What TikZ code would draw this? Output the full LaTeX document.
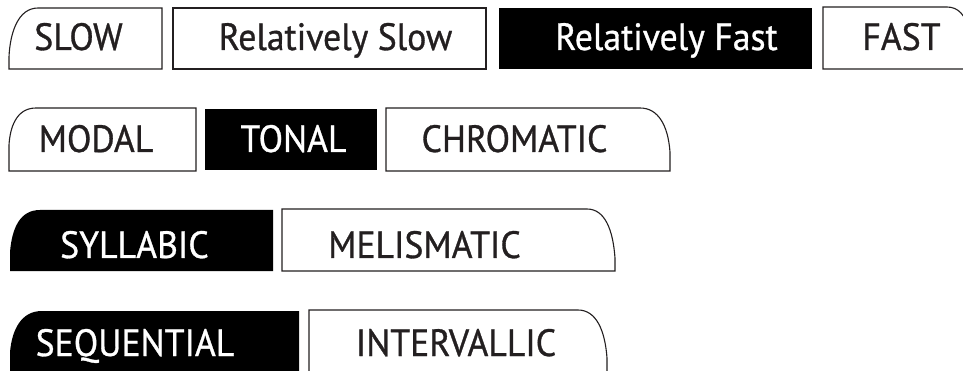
\documentclass[tikz,border=0pt]{standalone}
\usepackage{fontspec}
\setmainfont{PT Sans}[FakeStretch=0.94,FakeBold=0.8]
\usetikzlibrary{positioning}
\definecolor{ink}{HTML}{231F20}

\begin{document}
\begin{tikzpicture}[x=1pt,y=-1pt]
  \clip (0,0) rectangle (963,371);
  \begin{scope}[every path/.style={draw=ink,line width=1.1pt,fill=white}]
    % row 1
    \path (162,69) -- (9,69) -- (9,57) .. controls (10,33) and (18,8) .. (38,8) -- (162,8) -- cycle;
    \path (173,8) rectangle (486,69);
    \path (823,69) -- (823,7) -- (947,7) .. controls (958,7) and (966,15) .. (968,30) -- (968,69) -- cycle;
    % row 2
    \path (196,171) -- (9,171) -- (9,145) .. controls (10,128) and (16,108) .. (36,108) -- (196,108) -- cycle;
    \path (386,171) -- (386,108) -- (640,108) .. controls (658,108) and (668,125) .. (670,152) -- (670,171) -- cycle;
    % row 3
    \path (282,271) -- (282,209) -- (587,209) .. controls (605,209) and (613,230) .. (615,258) -- (615,271) -- cycle;
    % row 4
    \path (309,380) -- (309,310) -- (578,310) .. controls (596,310) and (605,330) .. (607,358) -- (607,380) -- cycle;
  \end{scope}
  \begin{scope}[every path/.style={fill=black}]
    \path (499,8) rectangle (812,69);
    \path (205,109) rectangle (377,170);
    \path (273,271) -- (10,271) -- (10,252) .. controls (12,228) and (20,210) .. (40,210) -- (273,210) -- cycle;
    \path (299,380) -- (10,380) -- (10,352) .. controls (12,330) and (21,311) .. (42,311) -- (299,311) -- cycle;
  \end{scope}

  \begin{scope}[every node/.style={anchor=base,inner sep=0pt,text=ink,font=\fontsize{38}{38}\selectfont}]
    \node (slow) at (78.5,50) {SLOW};
    \node (rslow) at (335.5,50) {Relatively Slow};
    \node[text=white] (rfast) at (666.5,50) {Relatively Fast};
    \node (fast) at (901.5,50) {FAST};
    \node (modal) at (96,152) {MODAL};
    \node[text=white] (tonal) at (293.5,152) {TONAL};
    \node (chromatic) at (514.5,152) {CHROMATIC};
    \node[text=white] (syllabic) at (134.5,258) {SYLLABIC};
    \node (melismatic) at (424.5,258) {MELISMATIC};
    \node[text=white] (sequential) at (135,356) {SEQUENTIAL};
    \node (intervallic) at (456,356) {INTERVALLIC};
  \end{scope}
\end{tikzpicture}
\end{document}
